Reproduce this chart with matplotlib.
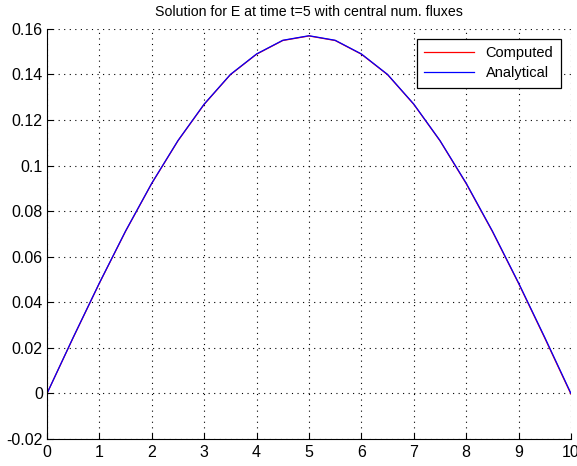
import numpy as np
import matplotlib
matplotlib.use('Agg')
import matplotlib.pyplot as plt

plt.rcParams['font.family'] = ['Liberation Sans', 'DejaVu Sans']

x = [0, 0.5, 1, 1.5, 2, 2.5, 3, 3.5, 4, 4.5, 5,
     5.5, 6, 6.5, 7, 7.5, 8, 8.5, 9, 9.5, 10]
e_analytical = [0, 0.0246, 0.0485, 0.0713, 0.0923, 0.111, 0.127, 0.140, 0.149, 0.155, 0.157,
                0.155, 0.149, 0.140, 0.127, 0.111, 0.0923, 0.0713, 0.0485, 0.0246, 0]
e_computed = [0, 0.0245, 0.0484, 0.0712, 0.0922, 0.1109, 0.1269, 0.1399, 0.1489, 0.1549, 0.1569,
              0.1549, 0.1489, 0.1399, 0.1269, 0.1109, 0.0921, 0.0711, 0.0483, 0.0243, -0.0003]

fig = plt.figure(figsize=(5.77, 4.66), dpi=100)
ax = fig.add_axes([0.0815, 0.058, 0.908, 0.88])

ax.plot(x, e_computed, color='red', lw=0.9, label='Computed')
ax.plot(x, e_analytical, color='blue', lw=0.9, label='Analytical')

ax.set_xlim(0, 10)
ax.set_ylim(-0.02, 0.16)
ax.set_xticks(range(0, 11))
ax.set_yticks(np.arange(-0.02, 0.161, 0.02))
ax.set_yticklabels(['-0.02', '0', '0.02', '0.04', '0.06', '0.08', '0.1',
                    '0.12', '0.14', '0.16'])
ax.tick_params(direction='in', labelsize=11.5, length=4)
ax.tick_params(axis='x', pad=4)
ax.tick_params(axis='y', pad=3)
ax.spines['top'].set_visible(False)
ax.spines['right'].set_visible(False)
ax.grid(True, linestyle=(0, (1, 4)), color='black', lw=0.8)

ax.set_title('Solution for E at time t=5 with central num. fluxes', fontsize=10.2, pad=9)
leg = ax.legend(loc='upper right', fontsize=10.5, fancybox=False, framealpha=1,
                edgecolor='black', borderaxespad=0.7, handlelength=3.4,
                borderpad=0.5, labelspacing=0.4)
leg.get_frame().set_linewidth(0.9)

fig.savefig('out.png', dpi=100)
